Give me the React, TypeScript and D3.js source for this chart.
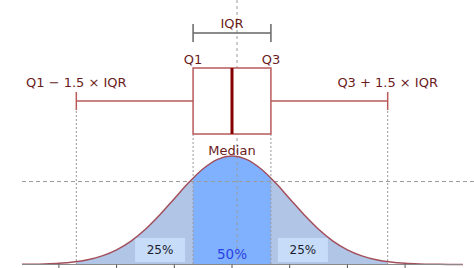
import React from "react";
import * as d3 from "d3";

// Standard normal density sampled at z (in σ units)
const zValues = [-3.75, -3.5, -3.25, -3, -2.75, -2.5, -2.25, -2, -1.75, -1.5, -1.25, -1, -0.75, -0.5, -0.25, 0, 0.25, 0.5, 0.75, 1, 1.25, 1.5, 1.75, 2, 2.25, 2.5, 2.75, 3, 3.25, 3.5, 3.75, 4];
const densities = [0.0004, 0.0009, 0.002, 0.0044, 0.0091, 0.0175, 0.0317, 0.054, 0.0863, 0.1295, 0.1826, 0.242, 0.3011, 0.3521, 0.3867, 0.3989, 0.3867, 0.3521, 0.3011, 0.242, 0.1826, 0.1295, 0.0863, 0.054, 0.0317, 0.0175, 0.0091, 0.0044, 0.002, 0.0009, 0.0004, 0.0001];

// Box-plot statistics (σ units)
const q1 = -0.6745;
const median = 0;
const q3 = 0.6745;
const lowWhisker = -2.698;
const highWhisker = 2.698;
const refLevel = 0.305;
const tickValues = [-3, -2, -1, 0, 1, 2, 3];
const regionShares = ["25%", "50%", "25%"];
const labels = { iqr: "IQR", q1: "Q1", q3: "Q3", median: "Median", low: "Q1 − 1.5 × IQR", high: "Q3 + 1.5 × IQR" };

const W = 474;
const H = 268;
const FONT = "DejaVu Sans, sans-serif";
const TEXT = "#6a1c1c";
const BOX = "#b85a5a";

export default function App() {
  const x = d3.scaleLinear().domain([-4, 4]).range([1.2, 462.8]);
  const y = d3.scaleLinear().domain([0, 0.3989]).range([264.5, 156]);
  const xMin = 22;
  const pts = zValues.map((z, i) => [z, densities[i]] as [number, number]).filter(p => x(p[0]) >= xMin - 20);
  const area = d3.area<[number, number]>().x(d => x(d[0])).y0(y(0)).y1(d => y(d[1])).curve(d3.curveMonotoneX);
  const line = d3.line<[number, number]>().x(d => x(d[0])).y(d => y(d[1])).curve(d3.curveMonotoneX);
  const areaPath = area(pts) || "";
  const linePath = line(pts) || "";

  const boxTop = 68, boxBot = 134, whiskY = 101;
  const base = y(0);
  const gridC = "#9a9a9a";

  return (
    <svg width={W} height={H} style={{ position: "absolute", left: 0, top: 0, background: "#fff" }} fontFamily={FONT}>
      <defs>
        <clipPath id="plotClip"><rect x={xMin} y={0} width={W - xMin} height={H} /></clipPath>
        <clipPath id="cLeft"><rect x={x(lowWhisker)} y={0} width={x(q1) - x(lowWhisker)} height={H} /></clipPath>
        <clipPath id="cMid"><rect x={x(q1)} y={0} width={x(q3) - x(q1)} height={H} /></clipPath>
        <clipPath id="cRight"><rect x={x(q3)} y={0} width={x(highWhisker) - x(q3)} height={H} /></clipPath>
      </defs>

      {/* filled regions */}
      <path d={areaPath} fill="#b1c5e7" clipPath="url(#cLeft)" />
      <path d={areaPath} fill="#80b1ff" clipPath="url(#cMid)" />
      <path d={areaPath} fill="#b1c5e7" clipPath="url(#cRight)" />

      {/* percentage label backgrounds */}
      <rect x={x(q1) - 58} y={238} width={50} height={24} fill="#c6dcf8" />
      <rect x={x(q3) + 7} y={238} width={50} height={24} fill="#c6dcf8" />

      {/* horizontal reference dashed line */}
      <line x1={xMin} x2={W} y1={y(refLevel)} y2={y(refLevel)} stroke={gridC} strokeDasharray="4,3" strokeWidth={1} />

      {/* vertical guide lines */}
      <line x1={x(lowWhisker)} x2={x(lowWhisker)} y1={whiskY + 10} y2={base} stroke={gridC} strokeDasharray="2,2" />
      <line x1={x(highWhisker)} x2={x(highWhisker)} y1={whiskY + 10} y2={base} stroke={gridC} strokeDasharray="2,2" />
      <line x1={x(q1)} x2={x(q1)} y1={boxBot} y2={base} stroke={gridC} strokeDasharray="2,2" />
      <line x1={x(q3)} x2={x(q3)} y1={boxBot} y2={base} stroke={gridC} strokeDasharray="2,2" />
      <line x1={x(median) + 5} x2={x(median) + 5} y1={0} y2={base} stroke={gridC} strokeDasharray="3,3" />

      {/* curve */}
      <path d={linePath} fill="none" stroke="#a24f5c" strokeWidth={1.5} clipPath="url(#plotClip)" />

      {/* axis */}
      <line x1={xMin} x2={462} y1={base} y2={base} stroke="#8a8a8a" strokeWidth={1} />
      {tickValues.map(t => (
        <line key={t} x1={x(t)} x2={x(t)} y1={base} y2={H} stroke="#555" strokeWidth={1} />
      ))}

      {/* region share labels */}
      <text x={x(q1) - 33} y={254} textAnchor="middle" fontSize={12} fill="#1c1c30">{regionShares[0]}</text>
      <text x={x(median)} y={259} textAnchor="middle" fontSize={13.5} fill="#2a40e6">{regionShares[1]}</text>
      <text x={x(q3) + 32} y={254} textAnchor="middle" fontSize={12} fill="#1c1c30">{regionShares[2]}</text>

      {/* IQR bracket */}
      <line x1={x(q1)} x2={x(q3)} y1={33} y2={33} stroke="#666" strokeWidth={1.5} />
      <line x1={x(q1)} x2={x(q1)} y1={24} y2={42} stroke="#666" strokeWidth={1.5} />
      <line x1={x(q3)} x2={x(q3)} y1={24} y2={42} stroke="#666" strokeWidth={1.5} />
      <text x={x(median)} y={28} textAnchor="middle" fontSize={13} fill={TEXT}>{labels.iqr}</text>

      {/* whiskers */}
      <line x1={x(lowWhisker)} x2={x(q1)} y1={whiskY} y2={whiskY} stroke={BOX} strokeWidth={1.5} />
      <line x1={x(q3)} x2={x(highWhisker)} y1={whiskY} y2={whiskY} stroke={BOX} strokeWidth={1.5} />
      <line x1={x(lowWhisker)} x2={x(lowWhisker)} y1={whiskY - 9} y2={whiskY + 9} stroke={BOX} strokeWidth={1.5} />
      <line x1={x(highWhisker)} x2={x(highWhisker)} y1={whiskY - 9} y2={whiskY + 9} stroke={BOX} strokeWidth={1.5} />

      {/* box */}
      <rect x={x(q1)} y={boxTop} width={x(q3) - x(q1)} height={boxBot - boxTop} fill="#fff" stroke={BOX} strokeWidth={1.5} />
      <line x1={x(median)} x2={x(median)} y1={boxTop} y2={boxBot} stroke="#850000" strokeWidth={3} />

      {/* labels */}
      <text x={x(q1)} y={64} textAnchor="middle" fontSize={13} fill={TEXT}>{labels.q1}</text>
      <text x={x(q3)} y={64} textAnchor="middle" fontSize={13} fill={TEXT}>{labels.q3}</text>
      <text x={x(lowWhisker)} y={87} textAnchor="middle" fontSize={13} fill={TEXT}>{labels.low}</text>
      <text x={x(highWhisker)} y={87} textAnchor="middle" fontSize={13} fill={TEXT}>{labels.high}</text>
      <text x={x(median)} y={155} textAnchor="middle" fontSize={13} fill={TEXT}>{labels.median}</text>
    </svg>
  );
}
